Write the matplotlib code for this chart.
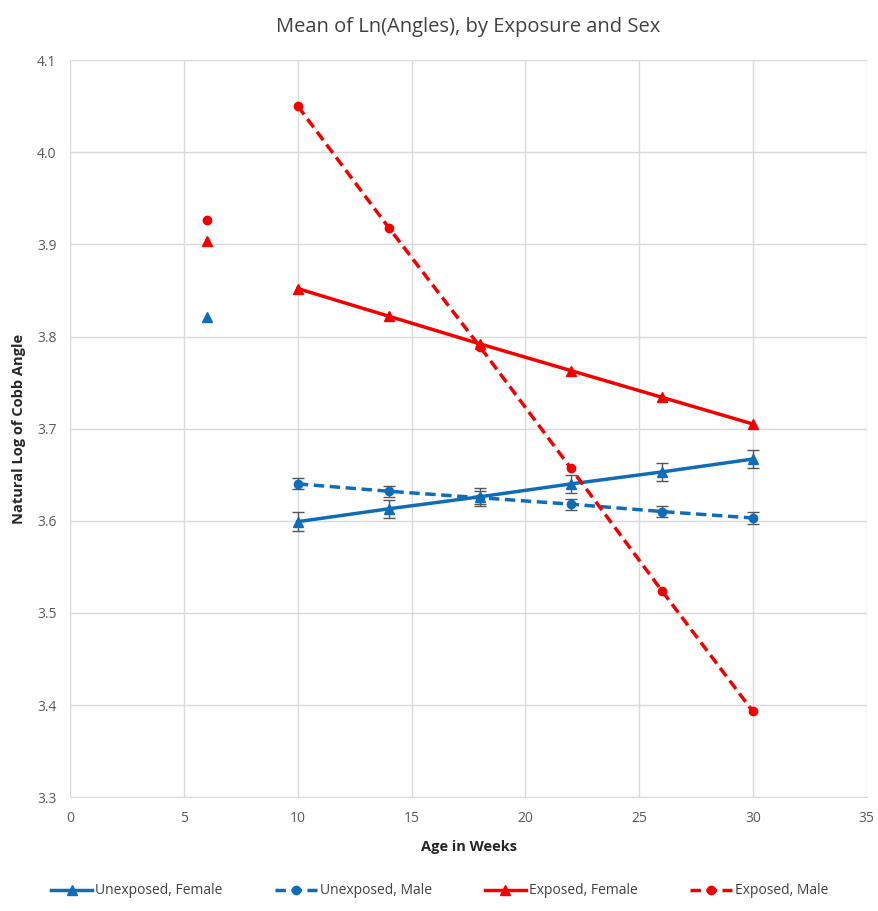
import numpy as np
import matplotlib
matplotlib.use('Agg')
import matplotlib.pyplot as plt

plt.rcParams['font.family'] = ['Open Sans', 'DejaVu Sans']

# weeks on the lines
weeks = [10, 14, 18, 22, 26, 30]

# baseline (week 6) points, not joined to the lines
base_week = 6
base_unexp_female = 3.821
base_exp_female = 3.904
base_exp_male = 3.926

unexp_female = [3.599, 3.613, 3.626, 3.640, 3.653, 3.667]
unexp_female_err = [0.010, 0.010, 0.010, 0.010, 0.010, 0.010]
unexp_male = [3.640, 3.632, 3.625, 3.618, 3.610, 3.603]
unexp_male_err = [0.006, 0.006, 0.007, 0.006, 0.006, 0.006]
exp_female = [3.852, 3.822, 3.792, 3.763, 3.734, 3.705]
exp_male = [4.050, 3.918, 3.789, 3.657, 3.524, 3.393]

blue = '#0F6DB8'
red = '#F20000'
errc = '#555555'

fig = plt.figure(figsize=(8.79, 9.11), dpi=100)
ax = fig.add_axes([0.080, 0.125, 0.906, 0.809])

# error bars for the unexposed groups
ax.errorbar(weeks, unexp_female, yerr=unexp_female_err, fmt='none', ecolor=errc,
            elinewidth=1, capsize=4, zorder=2)
ax.errorbar(weeks, unexp_male, yerr=unexp_male_err, fmt='none', ecolor=errc,
            elinewidth=1, capsize=4, zorder=2)

ax.plot(weeks, unexp_female, color=blue, lw=2.5, marker='^', ms=7,
        label='Unexposed, Female', zorder=3)
ax.plot(weeks, unexp_male, color=blue, lw=2.5, ls=(0, (3, 1.6)), marker='o', ms=6,
        label='Unexposed, Male', zorder=3)
ax.plot(weeks, exp_female, color=red, lw=2.5, marker='^', ms=7,
        label='Exposed, Female', zorder=3)
ax.plot(weeks, exp_male, color=red, lw=2.5, ls=(0, (3, 1.6)), marker='o', ms=6,
        label='Exposed, Male', zorder=3)

# week 6 points
ax.plot([base_week], [base_unexp_female], ls='none', marker='^', ms=7, color=blue, zorder=3)
ax.plot([base_week], [base_exp_female], ls='none', marker='^', ms=7, color=red, zorder=3)
ax.plot([base_week], [base_exp_male], ls='none', marker='o', ms=6, color=red, zorder=3)

ax.set_xlim(0, 35)
ax.set_ylim(3.3, 4.1)
ax.set_xticks(np.arange(0, 36, 5))
ax.set_yticks(np.arange(3.3, 4.11, 0.1))
ax.yaxis.set_major_formatter(matplotlib.ticker.FormatStrFormatter('%.1f'))
ax.grid(True, color='#D9D9D9', lw=1)
ax.set_axisbelow(True)
for s in ['top', 'right', 'left']:
    ax.spines[s].set_visible(False)
ax.spines['bottom'].set_color('#D9D9D9')
ax.tick_params(length=0, colors='#595959', labelsize=10, pad=10)

ax.set_title('Mean of Ln(Angles), by Exposure and Sex', fontsize=14.5, color='#404040', pad=20)
ax.set_xlabel('Age in Weeks', fontsize=10.5, fontweight='bold', color='#262626', labelpad=10)
ax.set_ylabel('Natural Log of Cobb Angle', fontsize=10.5, fontweight='bold', color='#262626',
              labelpad=8)

leg = fig.legend(loc='lower center', bbox_to_anchor=(0.5, 0.0), ncol=4, frameon=False,
                 fontsize=10, handlelength=3, handletextpad=0.2, columnspacing=3.8,
                 labelcolor='#404040')

plt.savefig('out.png', dpi=100)
